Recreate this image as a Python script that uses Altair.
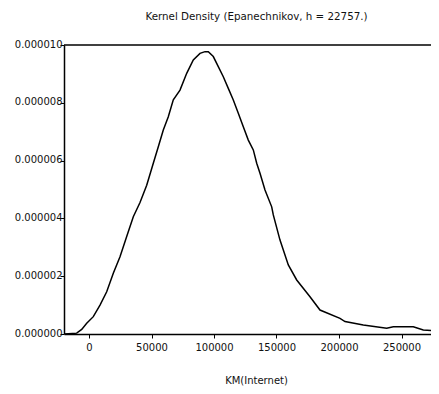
import altair as alt
import pandas as pd

km = [-20000, -9840, -5840, -1840, 3440, 8800, 14160, 19440, 24800, 30160, 35440,
      40800, 46160, 51440, 55440, 59440, 63440, 67440, 72800, 78160, 83440, 88800,
      92800, 95440, 99440, 107440, 111440, 115440, 119440, 123440, 127440, 131440,
      134160, 136800, 140800, 146160, 147440, 152800, 159440, 166160, 176800, 184800,
      200800, 204800, 219440, 238160, 243440, 259440, 267440, 275440, 280000]
dens_e6 = [0.0, 0.03, 0.16, 0.37, 0.60, 1.00, 1.46, 2.10, 2.67, 3.37, 4.06,
           4.55, 5.15, 5.91, 6.48, 7.06, 7.52, 8.10, 8.44, 9.02, 9.48, 9.71,
           9.77, 9.77, 9.60, 8.90, 8.50, 8.10, 7.64, 7.17, 6.71, 6.37,
           5.91, 5.56, 4.98, 4.40, 4.12, 3.25, 2.39, 1.87, 1.29, 0.83,
           0.54, 0.43, 0.31, 0.20, 0.25, 0.25, 0.14, 0.11, 0.02]

x_ticks = [0, 50000, 100000, 150000, 200000, 250000]
y_ticks = [0.0, 0.000002, 0.000004, 0.000006, 0.000008, 0.000010]
title_text = "Kernel Density (Epanechnikov, h = 22757.)"
x_title = "KM(Internet)"

df = pd.DataFrame({"km": km, "density": [d * 1e-6 for d in dens_e6]})

FONT = "DejaVu Sans"
TXT = "#111111"
W, H = 367, 289

xscale = alt.Scale(domain=[-20000, 273600], nice=False, zero=False)
yscale = alt.Scale(domain=[0, 0.00001], nice=False)

line = alt.Chart(df).mark_line(color="black", strokeWidth=1.5, clip=True).encode(
    x=alt.X("km:Q", scale=xscale,
            axis=alt.Axis(values=x_ticks, format="d", title=x_title,
                          titleFont=FONT, titleFontSize=10, titleFontWeight="normal",
                          titleColor=TXT, titleX=192, titleY=46,
                          titleBaseline="middle",
                          labelFont=FONT, labelFontSize=10, labelColor=TXT,
                          labelPadding=4, tickSize=4, tickColor="black",
                          domainColor="black", domainWidth=1.5, grid=False)),
    y=alt.Y("density:Q", scale=yscale,
            axis=alt.Axis(values=y_ticks, format=".6f", title=None,
                          labelFont=FONT, labelFontSize=10, labelColor=TXT,
                          labelPadding=-2, labelOffset=-1, labelBaseline="middle",
                          tickSize=4, tickColor="black",
                          domainColor="black", domainWidth=1.5, grid=False)),
)

top = alt.Chart(pd.DataFrame({"y": [0.00001]})).mark_rule(
    color="black", strokeWidth=1.5
).encode(
    y=alt.Y("y:Q", scale=yscale),
    x=alt.value(0), x2=alt.value(W),
)

chart = alt.layer(top, line).properties(
    width=W, height=H,
    title=alt.TitleParams(title_text, font=FONT, fontSize=10.3, fontWeight="normal",
                          color=TXT, anchor="middle", dx=9, frame="group",
                          offset=17),
    autosize=alt.AutoSizeParams(type="none"),
    padding={"left": 56, "top": 37, "right": 0, "bottom": 52},
).configure_view(stroke=None)

chart.save("out.html", embed_options={"renderer": "svg", "actions": False})
